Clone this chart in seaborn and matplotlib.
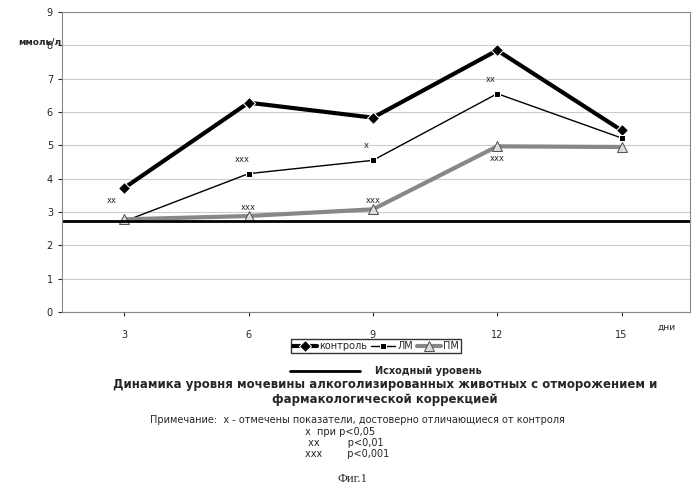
import matplotlib
matplotlib.use("Agg")
import matplotlib.pyplot as plt
import seaborn as sns
import pandas as pd
import numpy as np

days = ["3", "6", "9", "12", "15"]
control = [3.72, 6.28, 5.83, 7.85, 5.45]
lm = [2.72, 4.15, 4.55, 6.55, 5.22]
pm = [2.78, 2.88, 3.08, 4.97, 4.95]
baseline = 2.72
lm_marks = ["xx", "xxx", "x", "xx", ""]
pm_marks = ["", "xxx", "xxx", "xxx", ""]

W, H = 699, 493
sns.set_style("white")
fig = plt.figure(figsize=(6.99, 4.93), dpi=100)
ax = fig.add_axes([62 / W, 1 - 312 / H, 628 / W, 300 / H])
x = np.arange(len(days))
df = pd.DataFrame({"x": np.tile(x, 3), "y": control + lm + pm,
                   "s": ["контроль"] * 5 + ["ЛМ"] * 5 + ["ПМ"] * 5})
sns.lineplot(data=df[df.s == "контроль"], x="x", y="y", ax=ax, color="black", lw=3,
             marker="D", markersize=6, label="контроль")
sns.lineplot(data=df[df.s == "ЛМ"], x="x", y="y", ax=ax, color="black", lw=1,
             marker="s", markersize=5, label="ЛМ")
sns.lineplot(data=df[df.s == "ПМ"], x="x", y="y", ax=ax, color="#888888", lw=3,
             marker="^", markersize=7, markerfacecolor="#dddddd", markeredgecolor="#555555", label="ПМ")
ax.axhline(baseline, color="black", lw=2)
for i in x:
    if lm_marks[i]:
        ax.text(i - 0.05 if i else i - 0.1, lm[i] + 0.3 if i else 3.2, lm_marks[i], fontsize=6, ha="center", va="bottom")
    if pm_marks[i]:
        ax.text(i, pm[i] + 0.12 if i < 3 else pm[i] - 0.5, pm_marks[i], fontsize=6, ha="center", va="bottom")
ax.set_xlim(-0.5, 4.55)
ax.set_ylim(0, 9)
ax.set_yticks(range(10))
ax.set_xticks(x)
ax.set_xticklabels(days, fontsize=7)
ax.tick_params(axis="y", labelsize=7, length=3, left=True)
ax.tick_params(axis="x", length=3, bottom=True, pad=10)
ax.yaxis.grid(True, color="#cccccc", lw=0.8)
for sp in ax.spines.values():
    sp.set_color("#888888")
ax.set_xlabel("")
ax.set_ylabel("")
fig.text(18 / W, 1 - 42 / H, "ммоль/л", fontsize=6.5, fontweight="bold", va="center", ha="left")
fig.text(657 / W, 1 - 327 / H, "дни", fontsize=6.5, ha="left", va="center")
leg = ax.legend(loc="center", bbox_to_anchor=(376 / W, 1 - 346 / H), bbox_transform=fig.transFigure,
                ncol=3, fontsize=7, frameon=True, edgecolor="black", fancybox=False,
                handlelength=2.5, columnspacing=0.4, handletextpad=0.2, borderpad=0.2)
fig.lines.append(plt.Line2D([290 / W, 360 / W], [1 - 371 / H] * 2, color="black", lw=2, transform=fig.transFigure))
fig.text(375 / W, 1 - 371 / H, "Исходный уровень", fontsize=7, fontweight="bold", va="center")
fig.text(385 / W, 1 - 378 / H, "Динамика уровня мочевины алкоголизированных животных с отморожением и\nфармакологической коррекцией",
         fontsize=8.5, fontweight="bold", ha="center", va="top", linespacing=1.15)
fig.text(357 / W, 1 - 420 / H, "Примечание:  x - отмечены показатели, достоверно отличающиеся от контроля",
         fontsize=7, ha="center", va="center")
fig.text(305 / W, 1 - 427 / H, "x  при p<0,05\n xx         p<0,01\nxxx        p<0,001",
         fontsize=7, ha="left", va="top", linespacing=1.1)
fig.text(352 / W, 1 - 479 / H, "Фиг.1", fontsize=9, family="Liberation Serif", ha="center", va="center")
fig.savefig("out.png", dpi=100)
